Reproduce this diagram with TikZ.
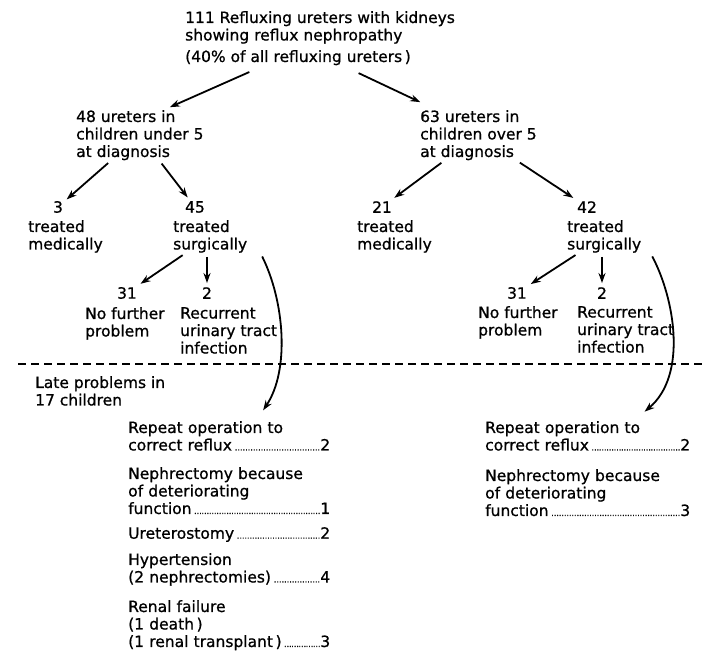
\documentclass[tikz,border=0pt]{standalone}
\usepackage{fontspec}
\setmainfont{DejaVu Sans}[FakeBold=0.8]
\usetikzlibrary{arrows.meta}
\newcommand\dotlead{\,{\footnotesize\xleaders\hbox to 0.9em{\hss...\hss}\hfill}}

\begin{document}
\begin{tikzpicture}[x=1pt,y=-1pt,
    font=\fontsize{15.5}{17.5}\selectfont,
    >={Stealth[length=10pt,width=7pt]},
    arr/.style={->,line width=1.8pt,shorten <=4pt,shorten >=2pt},
    txt/.style={anchor=north west,align=left,inner sep=0pt},
    num/.style={inner sep=2pt},
    entry/.style={txt,text width=#1}]
    \useasboundingbox (0,0) rectangle (704,653);

    % the tree
    \node[txt] (root) at (185,11) {111 Refluxing ureters with kidneys\\showing reflux nephropathy\\[4pt](40\% of all refluxing ureters\,)};
    \node[txt] (under5) at (76,110) {48 ureters in\\children under 5\\at diagnosis};
    \node[txt] (over5) at (420,110) {63 ureters in\\children over 5\\at diagnosis};

    \node[num] (n3) at (58,207) {3};
    \node[txt] (med1) at (28,220) {treated\\medically};
    \node[num] (n45) at (195,207) {45};
    \node[txt] (surg1) at (173,220) {treated\\surgically};
    \node[num] (n21) at (382,207) {21};
    \node[txt] (med2) at (357,220) {treated\\medically};
    \node[num] (n42) at (587,207) {42};
    \node[txt] (surg2) at (567,220) {treated\\surgically};

    \node[num] (n31a) at (127,293) {31};
    \node[txt] (ok1) at (85,307) {No further\\problem};
    \node[num] (n2a) at (207,293) {2};
    \node[txt] (uti1) at (180,307) {Recurrent\\urinary tract\\infection};
    \node[num] (n31b) at (517,293) {31};
    \node[txt] (ok2) at (478,306) {No further\\problem};
    \node[num] (n2b) at (602,293) {2};
    \node[txt] (uti2) at (577,306) {Recurrent\\urinary tract\\infection};

    \draw[arr] ([shift={(68,5)}]root.south west) -- ([shift={(92,-2)}]under5.north west);
    \draw[arr] ([shift={(170,6)}]root.south west) -- ([shift={(2,-7)}]over5.north west);
    \draw[arr] (under5) -- (n3);
    \draw[arr] (under5) -- (n45);
    \draw[arr] (over5) -- (n21);
    \draw[arr] (over5) -- (n42);
    \draw[arr] (surg1) -- (n31a);
    \draw[arr] (surg1.south -| n2a) -- (n2a);
    \draw[arr] (surg2) -- (n31b);
    \draw[arr] (surg2.south -| n2b) -- (n2b);

    % late problems
    \draw[line width=1.8pt,dash pattern=on 8pt off 5pt] (18,364) -- (704,364);
    \node[txt] (late) at (35,376) {Late problems in\\17 children};

    \node[entry=202pt] (rep1) at (128,421) {Repeat operation to\\correct reflux\dotlead 2};
    \node[entry=202pt] (nep1) at (128,467) {Nephrectomy because\\of deteriorating\\function\dotlead 1};
    \node[entry=202pt] (ure1) at (128,527) {Ureterostomy\dotlead 2};
    \node[entry=202pt] (hyp1) at (128,553) {Hypertension\\(2 nephrectomies)\dotlead 4};
    \node[entry=202pt] (ren1) at (128,600) {Renal failure\\(1 death\,)\\(1 renal transplant\,)\dotlead 3};

    \node[entry=205pt] (rep2) at (485,421) {Repeat operation to\\correct reflux\dotlead 2};
    \node[entry=205pt] (nep2) at (485,469) {Nephrectomy because\\of deteriorating\\function\dotlead 3};

    \draw[arr] ([xshift=13pt]surg1.south east) .. controls +(24,48) and +(28,-42) .. ([shift={(134,-9)}]rep1.north west);
    \draw[arr] ([xshift=9pt]surg2.south east) .. controls +(24,45) and +(45,-38) .. ([shift={(158,-8)}]rep2.north west);
\end{tikzpicture}
\end{document}
